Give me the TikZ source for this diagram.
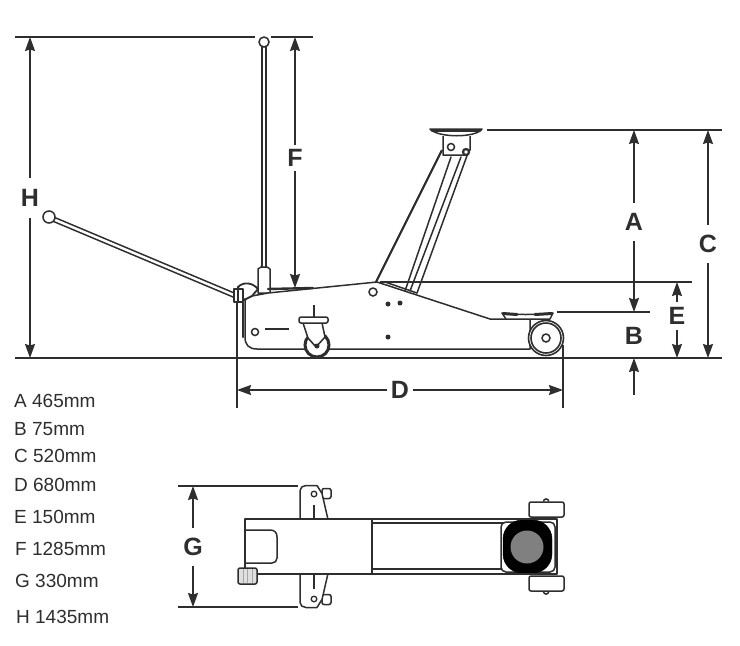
\documentclass[tikz,border=0pt]{standalone}
\usepackage{fontspec}
\setmainfont{Liberation Sans}
\usetikzlibrary{arrows.meta}
\definecolor{inkgray}{gray}{0.18}
\tikzset{
  part/.style={draw=inkgray,line width=1.5pt,fill=white,line join=round},
  outline/.style={draw=inkgray,line width=1.5pt,line cap=round},
  heavy/.style={draw=inkgray,line width=2.4pt,line cap=round},
  rod/.style={draw=inkgray,line width=1.6pt,double=white,double distance=2.4pt},
  extline/.style={draw=inkgray,line width=1.6pt},
  dimline/.style={draw=inkgray,line width=1.6pt,-{Stealth[length=14pt,width=10pt,inset=1.5pt]}},
  dimlabel/.style={font=\fontsize{25}{25}\selectfont\bfseries,text=inkgray,inner sep=0pt,minimum width=18pt},
  sizetext/.style={font=\fontsize{19}{19}\selectfont,text=inkgray,anchor=base west,inner sep=0pt},
  hole/.style={draw=inkgray,line width=1.5pt,fill=white,circle,inner sep=0pt},
  rivet/.style={fill=inkgray,circle,inner sep=0pt,minimum size=5pt},
}
\begin{document}
\begin{tikzpicture}[x=1pt,y=-1pt]
  \useasboundingbox (0,0) rectangle (740,646);
  % dimension reference lines
  \draw[extline] (15,37) -- (255,37);
  \draw[extline] (271,37) -- (313,37);
  \draw[extline] (15,358) -- (722,358);
  \draw[extline] (487,130) -- (722,130);
  \draw[extline] (380,282) -- (692,282);
  \draw[extline] (557,312) -- (650,312);
  \draw[extline] (237,290) -- (237,408);
  \draw[extline] (563,345) -- (563,408);
  \draw[extline] (178,486) -- (298,486);
  \draw[extline] (178,607) -- (298,607);
  % handle, raised and lowered
  \draw[rod] (264,47) -- (264,270);
  \node[hole,minimum size=10pt] (ballUp) at (264,42) {};
  \draw[rod] (53,219) -- (236,296);
  \node[hole,minimum size=12pt] (ballLow) at (49,217) {};
  \draw[part] (258,293) -- (258,269) -- (261,267) -- (267,267) -- (270,269) -- (270,293) -- cycle;
  % lifting arm and saddle
  \draw[outline] (405,291) -- (451,157);
  \draw[outline] (410,291) -- (461,157);
  \draw[outline] (417,293) -- (468,153);
  \draw[line width=2.2pt,draw=inkgray] (376,282) -- (442,150);
  \draw[part] (443,136) -- (443,155) -- (466,155) -- (470,150) -- (470,136);
  \node[hole,minimum size=7pt] (pinHead) at (451,147) {};
  \node[hole,minimum size=6pt,line width=2.2pt] (pinArm) at (466,152) {};
  \draw[part] (430,129) -- (482,129) .. controls (476,138) and (438,138) .. cycle;
  \draw[draw=inkgray,line width=3pt,line cap=round] (432,130) -- (480,130);
  % chassis
  \draw[part] (245,303) .. controls (245,298) and (247,297) .. (252,296) -- (268,293) -- (377,282) -- (490,319)
    -- (530,319) -- (530,349) -- (257,349) .. controls (249,349) and (245,345) .. (245,337) -- cycle;
  \draw[heavy] (243,303) -- (243,337);
  \draw[heavy] (268,289) -- (313,288);
  \draw[outline] (385,282) -- (417,293);
  \draw[line width=1.8pt,draw=inkgray,fill=white] (238,287) .. controls (244,281) and (253,283) .. (258,289) -- (252,296) -- (244,300) -- cycle;
  \draw[part] (234,289) rectangle (243,302);
  \draw[outline] (238,287) -- (238,302);
  \node[hole,minimum size=8pt] (holeArm) at (373,292) {};
  \node[hole,minimum size=7pt] (holeRear) at (255,332) {};
  \node[rivet] (rivetA) at (388,304) {};
  \node[rivet] (rivetB) at (400,303) {};
  \node[rivet] (rivetC) at (388,337) {};
  \draw[line width=2.8pt,draw=inkgray] (265,329) -- (289,329);
  % rear caster
  \draw[line width=2.2pt,draw=inkgray] (314,305) -- (314,318);
  \node[circle,draw=inkgray,line width=3pt,fill=white,minimum size=24pt,inner sep=0pt] (casterWheel) at (317,345) {};
  \draw[part] (303,323) -- (308,338) -- (316,347) -- (325,337) -- (322,323);
  \draw[part,rounded corners=2pt] (299,317) rectangle (328,323);
  \node[rivet] (casterHub) at (317,346) {};
  % front roller
  \node[circle,draw=inkgray,line width=1.6pt,fill=white,minimum size=35pt,inner sep=0pt] (rollerOut) at (546,338) {};
  \node[circle,draw=inkgray,line width=1.6pt,fill=white,minimum size=30pt,inner sep=0pt] (rollerIn) at (546,338) {};
  \node[hole,minimum size=8pt] (rollerHub) at (546,338) {};
  \draw[part] (502,313) .. controls (515,315) and (535,315) .. (553,313) -- (550,319) -- (506,319) -- cycle;
  \draw[draw=inkgray,line width=3pt,line cap=round] (503,313.5) -- (517,314.5);
  \draw[draw=inkgray,line width=3pt,line cap=round] (535,314.5) -- (552,313.5);
  % plan view
  \foreach \s in {1,-1}{
    \begin{scope}[shift={(0,546.5)},yscale=\s]
      \draw[part,rounded corners=2pt] (322,-58) -- (331,-58) -- (331,-48) -- (322,-48) -- cycle;
      \draw[part] (300,-27) -- (300,-56) .. controls (300,-59) and (303,-61) .. (306,-61) -- (317,-61) -- (322,-53) -- (328,-27) -- cycle;
      \draw[fill=white,draw=inkgray,line width=1.3pt] (314,-52.5) circle (2.8pt);
      \draw[line width=2.8pt,draw=inkgray] (314,-42) -- (314,-27);
      \draw[part] (543.5,-45) arc (180:0:2.6pt);
      \draw[part,rounded corners=2pt] (529,-44.5) rectangle (564,-29.5);
    \end{scope}
  }
  \draw[part] (245,568) -- (245,519) -- (503,519) -- (557,519) -- (557,574) -- (257,574);
  \draw[outline] (245,530) -- (270,530) .. controls (275,530) and (277,533) .. (277,537) -- (277,558) .. controls (277,561) and (275,563) .. (272,563) -- (245,563);
  \draw[outline] (372,519) -- (372,574);
  \draw[outline] (372,523) -- (505,523);
  \draw[outline] (372,569) -- (505,569);
  \draw[part,rounded corners=2pt,fill=gray!25] (238,568) rectangle (257,584);
  \draw[draw=gray!70,line width=0.8pt] (243,569) -- (243,583) (247.5,569) -- (247.5,583) (252,569) -- (252,583);
  \draw[part,rounded corners=5pt] (501,522) rectangle (555,572);
  \draw[fill=black,rounded corners=19pt] (503,520) rectangle (552,573);
  \node[circle,fill=gray,minimum size=33pt,inner sep=0pt] (saddleTop) at (527,547) {};
  \draw[line width=2.8pt,draw=inkgray] (515,519) -- (557,519);
  \draw[line width=2.8pt,draw=inkgray] (515,574) -- (557,574);
  % dimensions
  \node[dimlabel,minimum height=39pt] (labH) at (30,198) {H};
  \coordinate (hTop) at (30,37);
  \coordinate (hLow) at (30,358);
  \draw[dimline] (labH) -- (hTop);
  \draw[dimline] (labH) -- (hLow);
  \node[dimlabel,minimum height=26pt] (labF) at (295,158) {F};
  \coordinate (fTop) at (295,37);
  \coordinate (fLow) at (295,288);
  \draw[dimline] (labF) -- (fTop);
  \draw[dimline] (labF) -- (fLow);
  \node[dimlabel,minimum height=37pt] (labA) at (634,222) {A};
  \coordinate (aTop) at (634,130);
  \coordinate (aLow) at (634,312);
  \draw[dimline] (labA) -- (aTop);
  \draw[dimline] (labA) -- (aLow);
  \node[dimlabel] (labB) at (634,336) {B};
  \coordinate (bEnd) at (634,395);
  \coordinate (bTip) at (634,358);
  \draw[dimline] (bEnd) -- (bTip);
  \node[dimlabel,minimum height=38pt] (labC) at (708,244) {C};
  \coordinate (cTop) at (708,130);
  \coordinate (cLow) at (708,358);
  \draw[dimline] (labC) -- (cTop);
  \draw[dimline] (labC) -- (cLow);
  \node[dimlabel,minimum height=28pt] (labE) at (677,316) {E};
  \coordinate (eTop) at (677,282);
  \coordinate (eLow) at (677,358);
  \draw[dimline] (labE) -- (eTop);
  \draw[dimline] (labE) -- (eLow);
  \node[dimlabel,minimum width=25pt] (labD) at (400,390) {D};
  \coordinate (dLeft) at (237,390);
  \coordinate (dRight) at (563,390);
  \draw[dimline] (labD) -- (dLeft);
  \draw[dimline] (labD) -- (dRight);
  \node[dimlabel,minimum height=37pt] (labG) at (193,547) {G};
  \coordinate (gTop) at (193,486);
  \coordinate (gLow) at (193,607);
  \draw[dimline] (labG) -- (gTop);
  \draw[dimline] (labG) -- (gLow);
  % size list
  \node[sizetext] (sizeA) at (14,407) {A 465mm};
  \node[sizetext] (sizeB) at (14,435) {B 75mm};
  \node[sizetext] (sizeC) at (14,462) {C 520mm};
  \node[sizetext] (sizeD) at (14,491) {D 680mm};
  \node[sizetext] (sizeE) at (14,523) {E 150mm};
  \node[sizetext] (sizeF) at (15,555) {F 1285mm};
  \node[sizetext] (sizeG) at (15,587) {G 330mm};
  \node[sizetext] (sizeH) at (16,623) {H 1435mm};
\end{tikzpicture}
\end{document}
